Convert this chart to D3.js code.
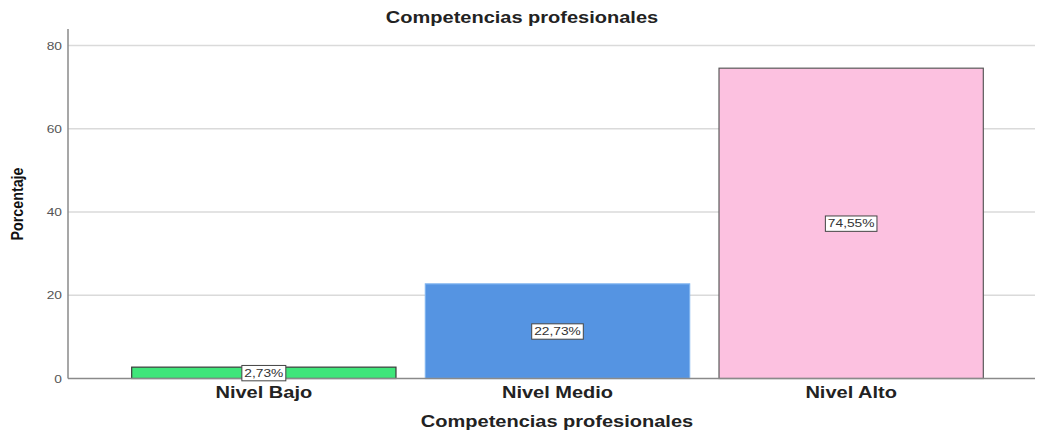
<!DOCTYPE html>
<html>
<head>
<meta charset="utf-8">
<script src="https://cdn.jsdelivr.net/npm/d3@7"></script>
<style>
  html, body { margin: 0; padding: 0; background: #fff; }
  svg { display: block; }
</style>
</head>
<body>
<svg id="chart" width="1038" height="432"></svg>
<script>
// Distribution of "Competencias profesionales" levels (percent)
const categories = ["Nivel Bajo", "Nivel Medio", "Nivel Alto"];
const percentages = [2.73, 22.73, 74.55];
const valueLabels = ["2,73%", "22,73%", "74,55%"];
const yTicks = [0, 20, 40, 60, 80];
const barColors = ["#3fe67a", "#5594e2", "#fcc1e0"];
const barStrokes = ["#3a3a3a", "#7eb3f0", "#5a5a5a"];

const svg = d3.select("#chart");
const plot = { left: 68, right: 1035, top: 29, bottom: 378.5 };
const FONT = "Liberation Sans, Arial, sans-serif";
const SX = 1.25; // wide lettering: horizontal text scale

const x = d3.scaleBand()
  .domain(categories)
  .range([117, 998])
  .paddingInner(0.1)
  .paddingOuter(0.05);

const y = d3.scaleLinear()
  .domain([0, 80])
  .range([plot.bottom, 45.5]);

// Gridlines
svg.append("g")
  .selectAll("line")
  .data(yTicks.filter(d => d > 0))
  .join("line")
  .attr("x1", plot.left)
  .attr("x2", plot.right)
  .attr("y1", d => y(d))
  .attr("y2", d => y(d))
  .attr("stroke", "#dadada")
  .attr("stroke-width", 1.5);

// Y axis
const yAxis = svg.append("g")
  .attr("transform", `translate(${plot.left},0)`)
  .call(d3.axisLeft(y).tickValues(yTicks).tickSize(0).tickPadding(0));
yAxis.select(".domain").remove();
yAxis.selectAll("text")
  .attr("x", -6 / SX)
  .attr("transform", `scale(${SX},1)`)
  .attr("font-family", FONT)
  .attr("font-size", 11)
  .attr("fill", "#555");
svg.append("line")
  .attr("x1", plot.left).attr("x2", plot.left)
  .attr("y1", plot.top).attr("y2", plot.bottom)
  .attr("stroke", "#8a8a8a").attr("stroke-width", 1.5);

// Bars
svg.append("g")
  .selectAll("rect")
  .data(categories)
  .join("rect")
  .attr("x", d => x(d))
  .attr("width", x.bandwidth())
  .attr("y", (d, i) => y(percentages[i]))
  .attr("height", (d, i) => y(0) - y(percentages[i]))
  .attr("fill", (d, i) => barColors[i])
  .attr("stroke", (d, i) => barStrokes[i])
  .attr("stroke-width", 1.2);

// X axis
const xAxis = svg.append("g")
  .attr("transform", `translate(0,${plot.bottom})`)
  .call(d3.axisBottom(x).tickSize(0).tickPadding(8));
xAxis.select(".domain").remove();
xAxis.selectAll("text")
  .attr("transform", `scale(${SX},1)`)
  .attr("font-family", FONT)
  .attr("font-size", 16)
  .attr("font-weight", "bold")
  .attr("fill", "#222");
svg.append("line")
  .attr("x1", plot.left).attr("x2", plot.right)
  .attr("y1", plot.bottom).attr("y2", plot.bottom)
  .attr("stroke", "#8a8a8a").attr("stroke-width", 1.5);

// Value labels in boxes at bar midpoints
const labels = svg.append("g")
  .selectAll("g")
  .data(categories)
  .join("g")
  .attr("transform", (d, i) => `translate(${x(d) + x.bandwidth() / 2},${(y(0) + y(percentages[i])) / 2})`);
labels.append("text")
  .attr("text-anchor", "middle")
  .attr("dy", "0.35em")
  .attr("transform", `scale(${SX},1)`)
  .attr("font-family", FONT)
  .attr("font-size", 11)
  .attr("fill", "#333")
  .text((d, i) => valueLabels[i])
  .each(function () {
    const bb = this.getBBox();
    d3.select(this.parentNode).insert("rect", "text")
      .attr("x", bb.x * SX - 2.5)
      .attr("y", bb.y - 1.5)
      .attr("width", bb.width * SX + 5)
      .attr("height", bb.height + 3)
      .attr("fill", "#fff")
      .attr("stroke", "#444")
      .attr("stroke-width", 1);
  });

// Titles
function wideText(cx, cy, size, str) {
  svg.append("text")
    .attr("transform", `translate(${cx},${cy}) scale(${SX},1)`)
    .attr("text-anchor", "middle")
    .attr("font-family", FONT)
    .attr("font-size", size)
    .attr("font-weight", "bold")
    .attr("fill", "#222")
    .text(str);
}
wideText(522, 22.5, 16, "Competencias profesionales");
wideText(557, 427, 16, "Competencias profesionales");

// Y axis title: tall, narrow lettering
svg.append("text")
  .attr("transform", "translate(23,204) rotate(-90)")
  .attr("text-anchor", "middle")
  .attr("font-family", FONT)
  .attr("font-size", 17)
  .attr("font-weight", "bold")
  .attr("fill", "#111")
  .attr("textLength", 73)
  .attr("lengthAdjust", "spacingAndGlyphs")
  .text("Porcentaje");
</script>
</body>
</html>
